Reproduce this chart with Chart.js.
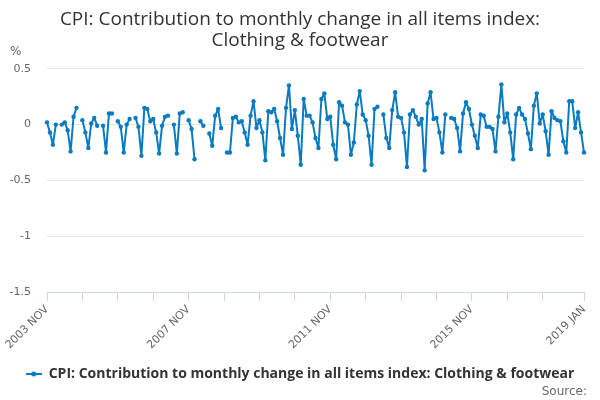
<!DOCTYPE html>
<html lang="en">
<head>
    <meta charset="UTF-8">
    <title>CPI: Clothing &amp; footwear</title>
    <script src="https://cdn.jsdelivr.net/npm/chart.js"></script>
    <style>
        html, body {
            margin: 0;
            padding: 0;
            background-color: #fff;
        }
        #wrap {
            width: 600px;
            height: 400px;
        }
    </style>
</head>
<body>
    <div id="wrap">
        <canvas id="cpiChart" width="600" height="400"></canvas>
    </div>

    <script>
        // titles and labels
        const TITLE_LINES = ['CPI: Contribution to monthly change in all items index:', 'Clothing & footwear'];
        const SERIES_NAME = 'CPI: Contribution to monthly change in all items index: Clothing & footwear';
        const UNIT_LABEL = '%';
        const SOURCE_LABEL = 'Source:';

        // months, first point is 2003 NOV
        const MONTH_NAMES = ['JAN', 'FEB', 'MAR', 'APR', 'MAY', 'JUN', 'JUL', 'AUG', 'SEP', 'OCT', 'NOV', 'DEC'];
        const START_YEAR = 2003;
        const START_MONTH = 10;

        // labelled ticks on the x axis
        const TICK_LABELS = ['2003 NOV', '2007 NOV', '2011 NOV', '2015 NOV', '2019 JAN'];

        // y axis range
        const Y_MIN = -1.5;
        const Y_MAX = 0.5;
        const Y_STEP = 0.5;

        // monthly values (percentage points), null = no value
        const VALUES = [
            0.02, -0.07, -0.18, 0.00, null, 0.00, 0.02, -0.05, -0.24, 0.07, 0.15, null,   // 2003 NOV - 2004 OCT
            0.04, -0.07, -0.21, 0.01, 0.06, -0.01, null, -0.01, -0.25, 0.10, 0.10, null,  // 2004 NOV - 2005 OCT
            0.03, -0.02, -0.25, 0.00, 0.05, null, 0.06, -0.02, -0.28, 0.15, 0.14, 0.03,   // 2005 NOV - 2006 OCT
            0.05, -0.07, -0.26, -0.01, 0.07, 0.08, null, 0.00, -0.26, 0.10, 0.11, null,   // 2006 NOV - 2007 OCT
            0.04, -0.04, -0.31, null, 0.03, -0.01, null, -0.08, -0.19, 0.08, 0.14, -0.03, // 2007 NOV - 2008 OCT
            null, -0.25, -0.25, 0.06, 0.07, 0.02, 0.03, -0.07, -0.18, 0.08, 0.21, -0.03,  // 2008 NOV - 2009 OCT
            0.04, -0.07, -0.32, 0.12, 0.11, 0.14, 0.03, -0.12, -0.27, 0.15, 0.35, -0.04,  // 2009 NOV - 2010 OCT
            0.13, -0.10, -0.36, 0.23, 0.08, 0.08, 0.02, -0.12, -0.21, 0.23, 0.28, 0.05,   // 2010 NOV - 2011 OCT
            0.07, -0.18, -0.31, 0.20, 0.17, 0.02, 0.00, -0.27, -0.16, 0.18, 0.30, 0.09,   // 2011 NOV - 2012 OCT
            0.04, -0.10, -0.36, 0.14, 0.16, null, 0.09, -0.12, -0.21, 0.13, 0.29, 0.07,   // 2012 NOV - 2013 OCT
            0.06, -0.07, -0.38, 0.09, 0.13, 0.07, 0.00, 0.05, -0.41, 0.19, 0.29, 0.05,    // 2013 NOV - 2014 OCT
            0.06, -0.07, -0.25, 0.09, null, 0.06, 0.05, -0.03, -0.24, 0.10, 0.20, 0.14,   // 2014 NOV - 2015 OCT
            0.00, -0.10, -0.21, 0.09, 0.08, -0.02, -0.02, -0.04, -0.24, 0.07, 0.36, 0.02, // 2015 NOV - 2016 OCT
            0.10, -0.07, -0.31, 0.09, 0.15, 0.09, 0.05, -0.08, -0.22, 0.17, 0.28, 0.01,   // 2016 NOV - 2017 OCT
            0.09, -0.06, -0.27, 0.12, 0.06, 0.04, 0.03, -0.15, -0.25, 0.21, 0.21, -0.03,  // 2017 NOV - 2018 OCT
            0.11, -0.07, -0.25                                                             // 2018 NOV - 2019 JAN
        ];

        // builds the month labels for every point
        const labels = VALUES.map((_, i) => {
            const m = START_MONTH + i;
            return `${START_YEAR + Math.floor(m / 12)} ${MONTH_NAMES[m % 12]}`;
        });

        const lineColor = '#0a7bc1';

        // small line with a dot for the legend symbol
        function makeLegendSymbol() {
            const c = document.createElement('canvas');
            c.width = 16;
            c.height = 8;
            const g = c.getContext('2d');
            g.strokeStyle = lineColor;
            g.lineWidth = 2;
            g.beginPath();
            g.moveTo(0, 4);
            g.lineTo(16, 4);
            g.stroke();
            g.fillStyle = lineColor;
            g.beginPath();
            g.arc(8, 4, 2.5, 0, Math.PI * 2);
            g.fill();
            return c;
        }

        // draws the unit label and the source line
        const extraText = {
            id: 'extraText',
            afterDraw(chart) {
                const ctx = chart.ctx;
                ctx.save();
                ctx.fillStyle = '#666666';
                ctx.font = '12px "DejaVu Sans"';
                ctx.textBaseline = 'middle';
                ctx.textAlign = 'left';
                ctx.fillText(UNIT_LABEL, 10, 52);
                ctx.textAlign = 'right';
                ctx.fillText(SOURCE_LABEL, 587, 392);
                ctx.restore();
            }
        };

        // tick positions: every 12 months plus the last month
        function yearTicks(axis) {
            const ticks = [];
            for (let i = 0; i < VALUES.length - 6; i += 12) {
                ticks.push({ value: i });
            }
            ticks.push({ value: VALUES.length - 1 });
            axis.ticks = ticks;
        }

        const ctx = document.getElementById('cpiChart').getContext('2d');

        new Chart(ctx, {
            type: 'line',
            data: {
                labels: labels,
                datasets: [{
                    label: SERIES_NAME,
                    data: VALUES,
                    borderColor: lineColor,
                    backgroundColor: lineColor,
                    borderWidth: 2,
                    borderJoinStyle: 'round',
                    pointRadius: 2.2,
                    pointBorderWidth: 0,
                    pointBackgroundColor: lineColor,
                    tension: 0,
                    spanGaps: false,
                    fill: false
                }]
            },
            plugins: [extraText],
            options: {
                responsive: false,
                animation: false,
                // equal side padding keeps title and legend centred on the page
                layout: {
                    padding: { left: 8, right: 8, top: 0, bottom: 9 }
                },
                plugins: {
                    title: {
                        display: true,
                        text: TITLE_LINES,
                        color: '#333333',
                        font: { family: '"Open Sans"', size: 19, weight: 'normal', lineHeight: 1.1 },
                        padding: { top: 9, bottom: 18 }
                    },
                    legend: {
                        position: 'bottom',
                        labels: {
                            usePointStyle: true,
                            pointStyle: makeLegendSymbol(),
                            pointStyleWidth: 16,
                            color: '#333333',
                            font: { family: '"Open Sans"', size: 14, weight: 'bold' },
                            padding: 10
                        }
                    },
                    tooltip: { enabled: false }
                },
                scales: {
                    x: {
                        type: 'category',
                        afterBuildTicks: yearTicks,
                        afterFit(scale) {
                            scale.height = 65;
                            scale.paddingRight = 16;
                        },
                        grid: {
                            drawOnChartArea: false,
                            drawTicks: true,
                            tickLength: 9,
                            color: '#ccd6eb'
                        },
                        border: { color: '#ccd6eb' },
                        ticks: {
                            autoSkip: false,
                            minRotation: 45,
                            maxRotation: 45,
                            padding: 2,
                            color: '#666666',
                            font: { family: '"DejaVu Sans"', size: 11 },
                            callback: function (value) {
                                const lab = this.getLabelForValue(value);
                                return TICK_LABELS.includes(lab) ? lab : '';
                            }
                        }
                    },
                    y: {
                        min: Y_MIN,
                        max: Y_MAX,
                        afterFit(scale) { scale.width = 39; },
                        grid: {
                            color: '#e6e6e6',
                            drawTicks: false
                        },
                        border: { display: false },
                        ticks: {
                            stepSize: Y_STEP,
                            padding: 16,
                            color: '#666666',
                            font: { family: '"DejaVu Sans"', size: 11 },
                            callback: (value) => String(Math.round(value * 10) / 10)
                        }
                    }
                }
            }
        });
    </script>
</body>
</html>
